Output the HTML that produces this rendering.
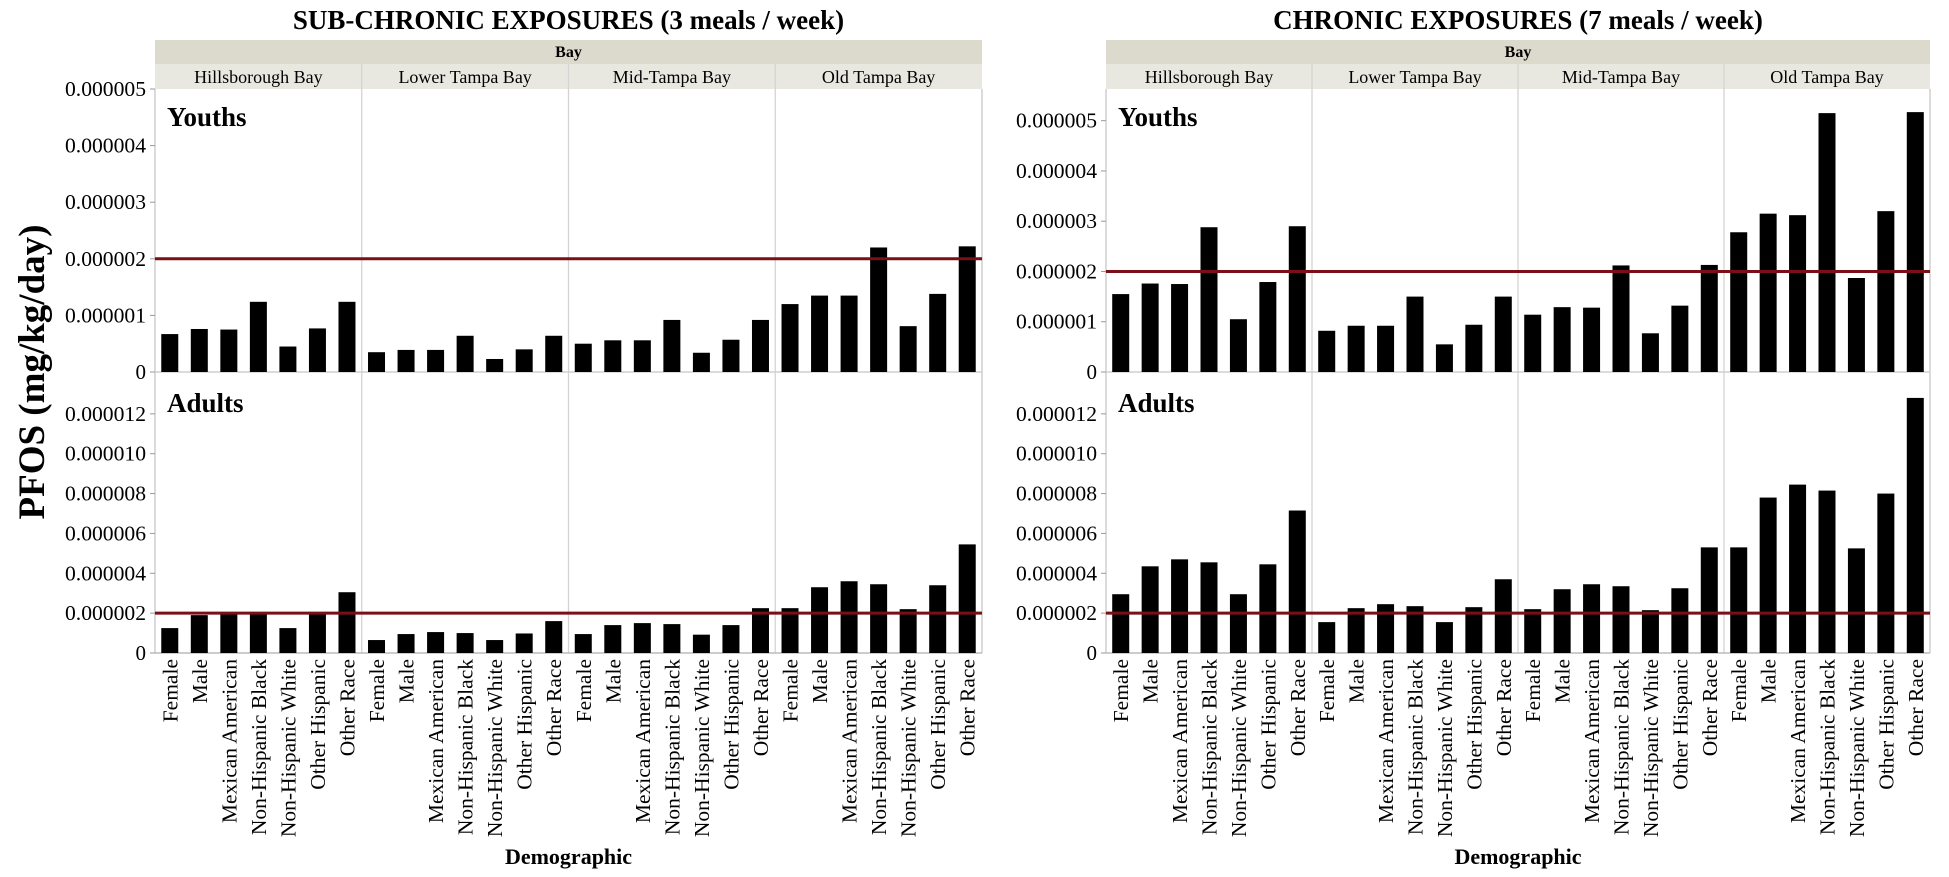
<!DOCTYPE html>
<html><head><meta charset="utf-8"><style>
html,body{margin:0;padding:0;background:#fff;}
svg{display:block;font-family:"Liberation Serif",serif;}
</style></head><body>
<svg id="chart" width="1949" height="877" viewBox="0 0 1949 877" xmlns="http://www.w3.org/2000/svg"></svg>
<script>
const bays = ["Hillsborough Bay","Lower Tampa Bay","Mid-Tampa Bay","Old Tampa Bay"];
const demographics = ["Female","Male","Mexican American","Non-Hispanic Black","Non-Hispanic White","Other Hispanic","Other Race"];
// values in units of 1e-6 mg/kg/day
const subYouths = [0.67,0.76,0.75,1.24,0.45,0.77,1.24, 0.35,0.39,0.39,0.64,0.23,0.40,0.64, 0.50,0.56,0.56,0.92,0.34,0.57,0.92, 1.20,1.35,1.35,2.20,0.81,1.38,2.22];
const subAdults = [1.25,1.9,2.0,2.0,1.25,1.95,3.05, 0.65,0.95,1.05,1.0,0.65,0.98,1.6, 0.95,1.4,1.5,1.45,0.92,1.4,2.25, 2.25,3.3,3.6,3.45,2.2,3.4,5.45];
const chrYouths = [1.55,1.76,1.75,2.88,1.05,1.79,2.9, 0.82,0.92,0.92,1.5,0.55,0.94,1.5, 1.14,1.29,1.28,2.12,0.77,1.32,2.13, 2.78,3.15,3.12,5.15,1.87,3.2,5.17];
const chrAdults = [2.95,4.35,4.7,4.55,2.95,4.45,7.15, 1.55,2.25,2.45,2.35,1.55,2.3,3.7, 2.2,3.2,3.45,3.35,2.15,3.25,5.3, 5.3,7.8,8.45,8.15,5.25,8.0,12.8];
const youthTicksLeft = [0,1,2,3,4,5];
const youthTicksRight = [0,1,2,3,4,5];
const adultTicks = [0,2,4,6,8,10,12];
const threshold = 2;
const titles = ["SUB-CHRONIC EXPOSURES (3 meals / week)","CHRONIC EXPOSURES (7 meals / week)"];

const NS="http://www.w3.org/2000/svg";
const svg=document.getElementById('chart');
function mk(tag,attrs,parent){const e=document.createElementNS(NS,tag);for(const k in attrs)e.setAttribute(k,attrs[k]);(parent||svg).appendChild(e);return e;}
function txt(s,attrs,parent){const e=mk('text',attrs,parent);e.textContent=s;return e;}
function fmtTick(v){return v===0?"0":(v*1e-6).toFixed(6);}

function drawPanel(pi,x0,x1,yMaxY,youthData,adultData,yTicks){
  const g=mk('g',{});
  
  
  const W=x1-x0;
  const t=txt(titles[pi],{x:(x0+x1)/2,y:29,'text-anchor':'middle','font-size':27,'font-weight':'bold'},g);
  
  
  const strip=mk('rect',{x:x0,y:40,width:W,height:24,fill:'#dcdacd'},g);
  
  
  const bt=txt('Bay',{x:(x0+x1)/2,y:57,'text-anchor':'middle','font-size':16,'font-weight':'bold'},g);
  
  
  const sub=mk('rect',{x:x0,y:64,width:W,height:25,fill:'#e9e8e0'},g);
  
  
  const pw=W/4, slot=pw/7, bw=17;
  const yT=89, y0Y=372, yA0=653, yAT=374, aMax=14.0;
  const sy=v=>y0Y-(v/yMaxY)*(y0Y-yT);
  const sa=v=>yA0-(v/aMax)*(yA0-yAT);
  for(let b=0;b<4;b++){
    const bx=x0+b*pw;
    const l=txt(bays[b],{x:bx+pw/2,y:83,'text-anchor':'middle','font-size':18},g);
    
    
    if(b>0){mk('line',{x1:bx,x2:bx,y1:64,y2:yA0,stroke:'#d4d4d4','stroke-width':1.3},g);}
  }
  mk('line',{x1:x0,x2:x0,y1:89,y2:yA0,stroke:'#cfcfcf','stroke-width':1.5},g);
  mk('line',{x1:x1,x2:x1,y1:89,y2:yA0,stroke:'#cfcfcf','stroke-width':1.5},g);
  mk('line',{x1:x0,x2:x1,y1:y0Y,y2:y0Y,stroke:'#cfcfcf','stroke-width':1.5},g);
  mk('line',{x1:x0,x2:x1,y1:yA0,y2:yA0,stroke:'#bbbbbb','stroke-width':1.5},g);
  function tick(v,y,name){
    mk('line',{x1:x0-5,x2:x0,y1:y,y2:y,stroke:'#999'},g);
    const a={x:x0-9,y:y+7,'text-anchor':'end','font-size':21};
    if(v!==0){a.textLength=81;a.lengthAdjust='spacingAndGlyphs';}
    const tt=txt(fmtTick(v),a,g);
    
    
  }
  yTicks.forEach(v=>tick(v,sy(v),'youth-y-tick'));
  adultTicks.forEach(v=>tick(v,sa(v),'adult-y-tick'));
  const yl=txt('Youths',{x:x0+12,y:126,'font-size':27,'font-weight':'bold'},g);
  
  
  const al=txt('Adults',{x:x0+12,y:412,'font-size':27,'font-weight':'bold'},g);
  
  
  for(let i=0;i<28;i++){
    const cx=x0+(i+0.5)*slot;
    const r1=mk('rect',{x:cx-bw/2,y:sy(youthData[i]),width:bw,height:y0Y-sy(youthData[i]),fill:'#000'},g);
    
    
    const r2=mk('rect',{x:cx-bw/2,y:sa(adultData[i]),width:bw,height:yA0-sa(adultData[i]),fill:'#000'},g);
    
    
    const lab=txt(demographics[i%7],{x:0,y:0,'text-anchor':'end','font-size':21.5,transform:`translate(${cx+7.5},${yA0+6}) rotate(-90)`},g);
    
    
  }
  const th1=mk('line',{x1:x0,x2:x1,y1:sy(threshold),y2:sy(threshold),stroke:'#7a0f16','stroke-width':3},g);
  
  
  const th2=mk('line',{x1:x0,x2:x1,y1:sa(threshold),y2:sa(threshold),stroke:'#7a0f16','stroke-width':3},g);
  
  
  const xt=txt('Demographic',{x:(x0+x1)/2,y:864,'text-anchor':'middle','font-size':22,'font-weight':'bold'},g);
  
  
}
drawPanel(0,155,982,5.0,subYouths,subAdults,youthTicksLeft);
drawPanel(1,1106,1930,5.63,chrYouths,chrAdults,youthTicksRight);
const yt=txt('PFOS (mg/kg/day)',{x:0,y:0,'text-anchor':'middle','font-size':37,'font-weight':'bold',transform:'translate(44,372) rotate(-90)'});


</script>
</body></html>
